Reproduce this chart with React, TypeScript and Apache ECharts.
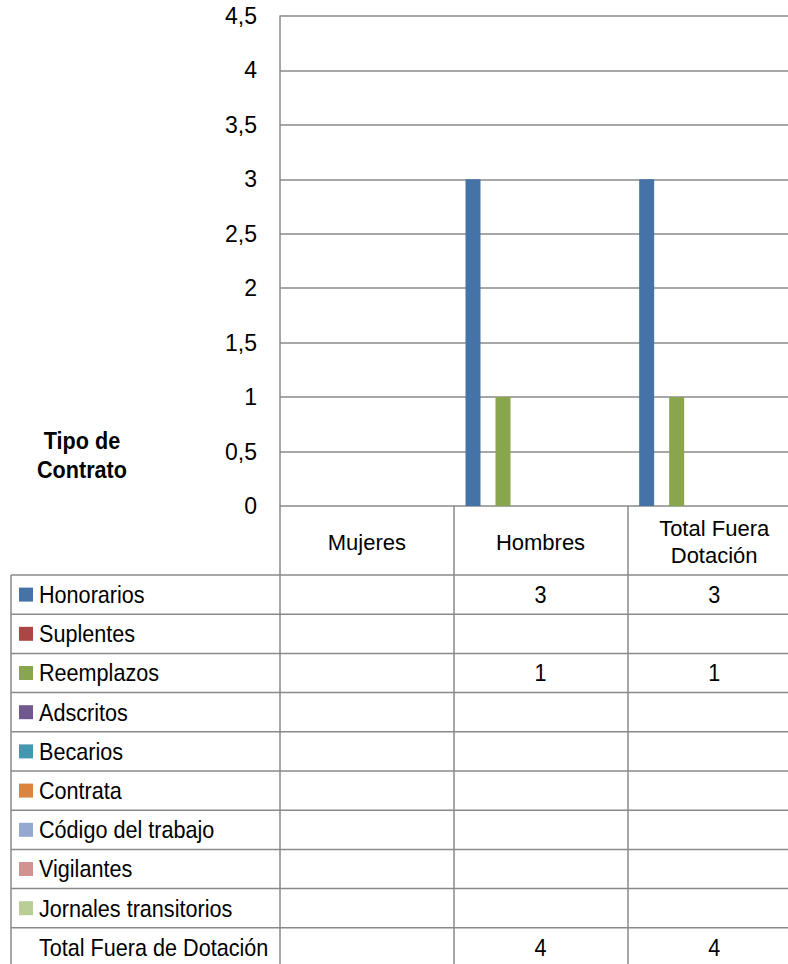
import React, { useEffect, useRef } from "react";
import * as echarts from "echarts";

const categories = ["Mujeres", "Hombres", "Total Fuera\nDotación"];
const seriesNames = [
  "Honorarios",
  "Suplentes",
  "Reemplazos",
  "Adscritos",
  "Becarios",
  "Contrata",
  "Código del trabajo",
  "Vigilantes",
  "Jornales transitorios",
  "Total Fuera de Dotación",
];
const honorarios = [null, 3, 3];
const suplentes = [null, null, null];
const reemplazos = [null, 1, 1];
const adscritos = [null, null, null];
const becarios = [null, null, null];
const contrata = [null, null, null];
const codigoTrabajo = [null, null, null];
const vigilantes = [null, null, null];
const jornales = [null, null, null];
const totalFuera = [null, 4, 4];
const seriesValues = [
  honorarios,
  suplentes,
  reemplazos,
  adscritos,
  becarios,
  contrata,
  codigoTrabajo,
  vigilantes,
  jornales,
  totalFuera,
];
const seriesColors = [
  "#4572A7",
  "#AA4643",
  "#89A54E",
  "#71588F",
  "#4198AF",
  "#DB843D",
  "#93A9CF",
  "#D19392",
  "#B9CD96",
  "transparent",
];
const yTicks = { min: 0, max: 4.5, interval: 0.5 };
const axisTitle = "Tipo de\nContrato";

const FONT = "'Liberation Sans', Arial, sans-serif";
const GRID_LEFT = 280;
const GRID_TOP = 16;
const GRID_H = 490;
const GRID_W = 521;
const TABLE_TOP = 575;
const ROW_H = 39.2;
const TABLE_LEFT = 11;
const LINE = "#8a8a8a";
const FS = 24;
const SX = 0.9;

export default function App() {
  const ref = useRef<HTMLDivElement>(null);
  useEffect(() => {
    if (!ref.current) return;
    const chart = echarts.init(ref.current, null, { renderer: "svg" });
    chart.setOption({
      animation: false,
      grid: { left: GRID_LEFT, top: GRID_TOP, width: GRID_W, height: GRID_H },
      xAxis: {
        type: "category",
        data: categories,
        axisLine: { show: false },
        axisTick: { show: true, length: 470, lineStyle: { color: LINE, width: 1.5 } },
        axisLabel: {
          margin: 36,
          verticalAlign: "middle",
          lineHeight: 27,
          fontFamily: FONT,
          fontSize: 22,
          color: "#000",
          interval: 0,
        },
      },
      yAxis: {
        type: "value",
        min: yTicks.min,
        max: yTicks.max,
        interval: yTicks.interval,
        axisLine: { show: true, lineStyle: { color: LINE, width: 1.5 } },
        axisTick: { show: false },
        splitLine: { show: true, lineStyle: { color: LINE, width: 1.5 } },
        axisLabel: {
          margin: 23,
          fontFamily: FONT,
          fontSize: 23,
          color: "#000",
          formatter: (v: number) => String(v).replace(".", ","),
        },
      },
      series: seriesNames.map((name, i) => ({
        name,
        type: "bar",
        data: seriesValues[i],
        barWidth: 15,
        barGap: "0%",
        itemStyle: { color: seriesColors[i] },
      })),
    });

    const colX = categories.map((_, i) => chart.convertToPixel({ xAxisIndex: 0 }, i) as number);
    const right = GRID_LEFT + GRID_W;
    const elements: any[] = [];
    for (let r = 0; r <= seriesNames.length; r++) {
      const y = TABLE_TOP + r * ROW_H;
      elements.push({
        type: "line",
        shape: { x1: TABLE_LEFT, y1: y, x2: right, y2: y },
        style: { stroke: LINE, lineWidth: 1.5 },
      });
    }
    elements.push({
      type: "line",
      shape: { x1: TABLE_LEFT, y1: TABLE_TOP, x2: TABLE_LEFT, y2: 980 },
      style: { stroke: LINE, lineWidth: 1.5 },
    });
    seriesNames.forEach((name, r) => {
      const cy = TABLE_TOP + r * ROW_H + ROW_H / 2;
      if (seriesColors[r] !== "transparent") {
        elements.push({
          type: "rect",
          shape: { x: 19, y: cy - 7, width: 14, height: 14 },
          style: { fill: seriesColors[r] },
        });
      }
      elements.push({
        type: "text",
        x: 39,
        y: cy,
        scaleX: SX,
        style: { text: name, fontFamily: FONT, fontSize: FS, fill: "#000", verticalAlign: "middle", align: "left" },
      });
      seriesValues[r].forEach((v, c) => {
        if (v === null || v === undefined) return;
        elements.push({
          type: "text",
          x: colX[c],
          y: cy,
          scaleX: SX,
          style: { text: String(v), fontFamily: FONT, fontSize: FS, fill: "#000", verticalAlign: "middle", align: "center" },
        });
      });
    });
    elements.push({
      type: "text",
      x: 82,
      y: 455,
      scaleX: SX,
      style: {
        text: axisTitle,
        fontFamily: FONT,
        fontSize: FS,
        fontWeight: "bold",
        lineHeight: 29,
        fill: "#000",
        align: "center",
        verticalAlign: "middle",
      },
    });
    chart.setOption({ graphic: { elements } });
    return () => chart.dispose();
  }, []);
  return (
    <div style={{ position: "fixed", left: 0, top: 0, width: 788, height: 964, overflow: "hidden", background: "#fff" }}>
      <div ref={ref} style={{ width: 820, height: 964 }} />
    </div>
  );
}
